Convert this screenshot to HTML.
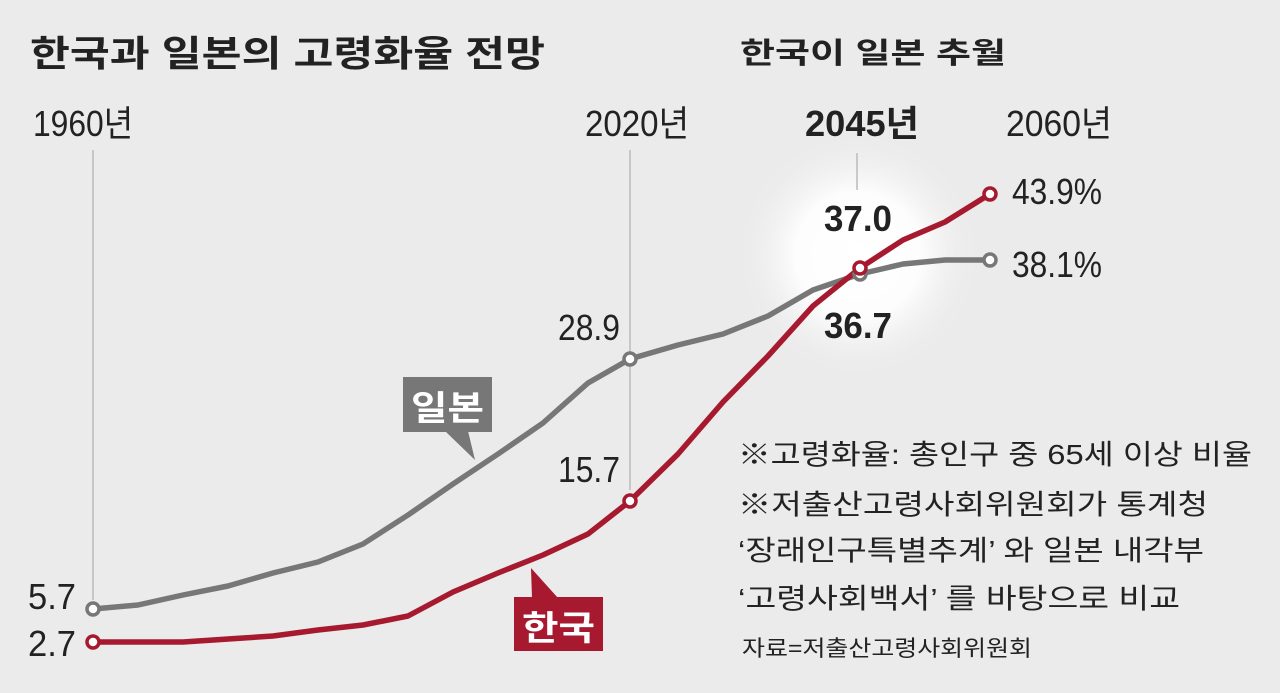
<!DOCTYPE html>
<html><head><meta charset="utf-8"><style>
body{margin:0;background:#ebebeb;}
svg{display:block;font-family:"Liberation Sans","Noto Sans CJK KR",sans-serif;}
</style></head><body>
<svg width="1280" height="693" viewBox="0 0 1280 693">
<defs>
<radialGradient id="g" cx="50%" cy="50%" r="50%">
<stop offset="0" stop-color="#fff"/><stop offset="0.5" stop-color="#fff" stop-opacity="0.9"/><stop offset="1" stop-color="#ebebeb" stop-opacity="0"/>
</radialGradient>
</defs>
<rect width="1280" height="693" fill="#ebebeb"/>
<circle cx="858" cy="255" r="125" fill="url(#g)"/>
<text x="30" y="66" font-size="36" font-weight="bold" fill="#222" textLength="515" lengthAdjust="spacingAndGlyphs">한국과 일본의 고령화율 전망</text>
<text x="740" y="63" font-size="29" font-weight="bold" fill="#222" textLength="266" lengthAdjust="spacingAndGlyphs">한국이 일본 추월</text>
<g font-size="36" fill="#222">
<text x="33" y="136" textLength="100" lengthAdjust="spacingAndGlyphs">1960년</text>
<text x="585" y="136" textLength="104" lengthAdjust="spacingAndGlyphs">2020년</text>
<text x="805" y="136" font-weight="bold" textLength="114" lengthAdjust="spacingAndGlyphs">2045년</text>
<text x="1006" y="136" textLength="106" lengthAdjust="spacingAndGlyphs">2060년</text>
</g>
<g stroke="#bbb" stroke-width="1.5">
<line x1="93" y1="150" x2="93" y2="600"/>
<line x1="630" y1="150" x2="630" y2="490"/>
<line x1="857" y1="153" x2="857" y2="190"/>
</g>
<polyline fill="none" stroke="#777" stroke-width="5.5" stroke-linejoin="round" points="93,609 138,605 183,595 228,586 273,573 318,562 363,544 408,515 453,484 498,454 543,423 588,383 630,359 678,345 723,334 768,316 813,290 860,274 903,264 945,260 990,260"/>
<polyline fill="none" stroke="#a6192e" stroke-width="5.5" stroke-linejoin="round" points="93,642 183,642 273,636 318,630 363,625 408,616 453,592 498,573 543,555 588,534 630,501 678,454 723,402 768,356 813,306 860,268 903,240 945,222 990,194"/>
<g fill="#fff" stroke-width="3.5">
<circle cx="93" cy="609" r="6" stroke="#777"/>
<circle cx="630" cy="359" r="6" stroke="#777"/>
<circle cx="860" cy="274" r="6" stroke="#777"/>
<circle cx="990" cy="260" r="6" stroke="#777"/>
<circle cx="93" cy="642" r="6" stroke="#a6192e"/>
<circle cx="630" cy="501" r="6" stroke="#a6192e"/>
<circle cx="860" cy="268" r="6" stroke="#a6192e"/>
<circle cx="990" cy="194" r="6" stroke="#a6192e"/>
</g>
<g font-size="36" fill="#222">
<text x="28" y="609" textLength="48" lengthAdjust="spacingAndGlyphs">5.7</text>
<text x="28" y="656" textLength="48" lengthAdjust="spacingAndGlyphs">2.7</text>
<text x="558" y="340" textLength="62" lengthAdjust="spacingAndGlyphs">28.9</text>
<text x="558" y="482" textLength="62" lengthAdjust="spacingAndGlyphs">15.7</text>
<text x="1012" y="204" textLength="90" lengthAdjust="spacingAndGlyphs">43.9%</text>
<text x="1012" y="277" textLength="90" lengthAdjust="spacingAndGlyphs">38.1%</text>
<text x="824" y="231" font-weight="bold" textLength="68" lengthAdjust="spacingAndGlyphs">37.0</text>
<text x="824" y="338" font-weight="bold" textLength="68" lengthAdjust="spacingAndGlyphs">36.7</text>
</g>
<rect x="403" y="377" width="89" height="55" fill="#777"/>
<polygon points="445,431 468,431 475,460" fill="#777"/>
<text x="411" y="420" font-size="34" font-weight="bold" fill="#fff" textLength="73" lengthAdjust="spacingAndGlyphs">일본</text>
<rect x="514" y="597" width="89" height="54" fill="#a6192e"/>
<polygon points="532,598 558,598 531,568" fill="#a6192e"/>
<text x="522" y="640" font-size="34" font-weight="bold" fill="#fff" textLength="73" lengthAdjust="spacingAndGlyphs">한국</text>
<g font-size="28" fill="#222">
<text x="738" y="464" textLength="514" lengthAdjust="spacingAndGlyphs">※고령화율: 총인구 중 65세 이상 비율</text>
<text x="738" y="514" textLength="470" lengthAdjust="spacingAndGlyphs">※저출산고령사회위원회가 통계청</text>
<text x="738" y="560" textLength="466" lengthAdjust="spacingAndGlyphs">‘장래인구특별추계’ 와 일본 내각부</text>
<text x="738" y="608" textLength="442" lengthAdjust="spacingAndGlyphs">‘고령사회백서’ 를 바탕으로 비교</text>
<text x="742" y="656" font-size="22" textLength="290" lengthAdjust="spacingAndGlyphs">자료=저출산고령사회위원회</text>
</g>
</svg>
</body></html>
